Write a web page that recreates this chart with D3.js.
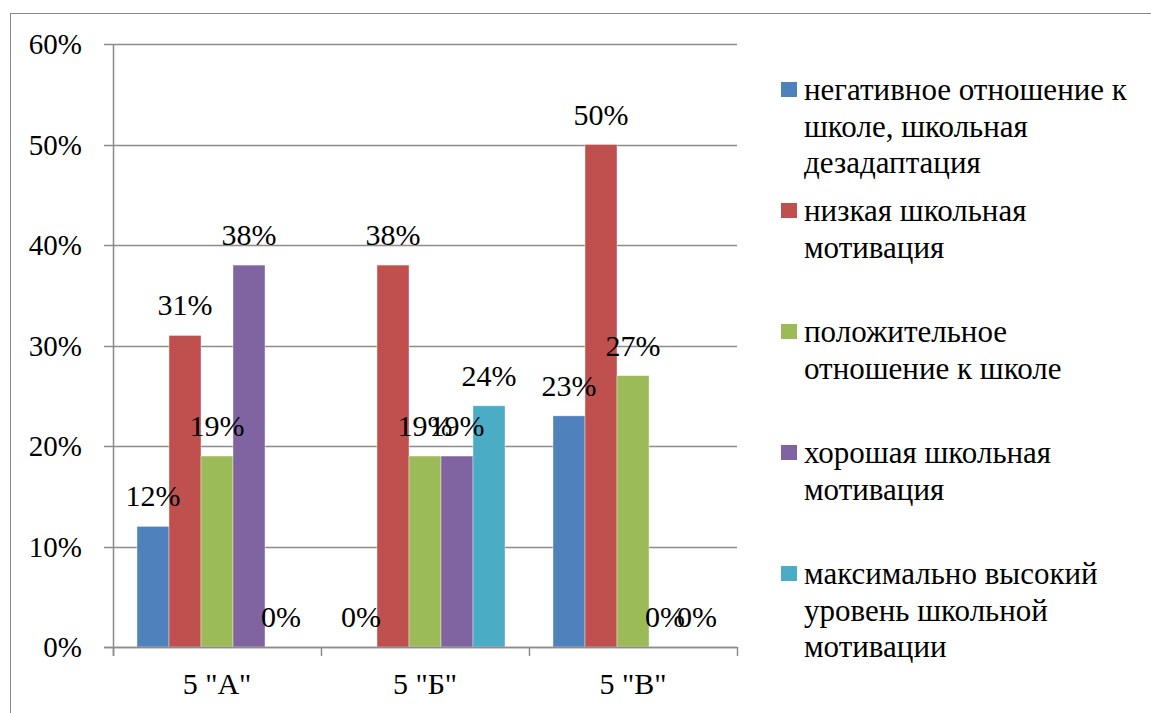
<!DOCTYPE html>
<html>
<head>
<meta charset="utf-8">
<script src="https://cdn.jsdelivr.net/npm/d3@7"></script>
<style>
  body { margin: 0; background: #fff; }
</style>
</head>
<body>
<div id="app"></div>
<script>
var classes = ['5 "А"', '5 "Б"', '5 "В"'];
var seriesNames = [
    ['негативное отношение к', 'школе, школьная', 'дезадаптация'],
    ['низкая школьная', 'мотивация'],
    ['положительное', 'отношение к школе'],
    ['хорошая школьная', 'мотивация'],
    ['максимально высокий', 'уровень школьной', 'мотивации']
];
var seriesColors = ['#4f81bd', '#c0504d', '#9bbb59', '#8064a2', '#4bacc6'];
var negative = [0.12, 0, 0.23];
var low = [0.31, 0.38, 0.50];
var positive = [0.19, 0.19, 0.27];
var good = [0.38, 0.19, 0];
var highest = [0, 0.24, 0];
var yTicks = [0, 0.1, 0.2, 0.3, 0.4, 0.5, 0.6];

var series = [negative, low, positive, good, highest];

var width = 1151, height = 713;
var plot = { left: 113, right: 737, top: 44, bottom: 647 };
var fontFamily = "'Liberation Serif', 'Times New Roman', Tinos, 'DejaVu Serif', serif";

var svg = d3.select('#app')
    .append('svg')
    .attr('width', width)
    .attr('height', height)
    .attr('font-family', fontFamily)
    .style('font-family', fontFamily);

// outer chart frame (runs off the right and bottom edges)
svg.append('rect')
    .attr('x', 10.5)
    .attr('y', 13.5)
    .attr('width', width)
    .attr('height', height)
    .attr('fill', 'none')
    .attr('stroke', '#888');

var x0 = d3.scaleBand()
    .domain(classes)
    .range([plot.left, plot.right])
    .paddingInner(48 / 208)
    .paddingOuter(24 / 208);

var x1 = d3.scaleBand()
    .domain(d3.range(series.length))
    .range([0, x0.bandwidth()]);

var y = d3.scaleLinear()
    .domain([0, 0.6])
    .range([plot.bottom, plot.top]);

// gridlines
svg.append('g')
    .selectAll('line')
    .data(yTicks)
    .enter().append('line')
    .attr('x1', plot.left - 9)
    .attr('x2', plot.right)
    .attr('y1', function(d) { return Math.round(y(d)) + 0.5; })
    .attr('y2', function(d) { return Math.round(y(d)) + 0.5; })
    .attr('stroke', '#8c8c8c')
    .attr('stroke-width', 1.5);

// y axis labels
svg.append('g')
    .selectAll('text')
    .data(yTicks)
    .enter().append('text')
    .attr('x', 82)
    .attr('y', function(d) { return y(d) + 10; })
    .attr('text-anchor', 'end')
    .attr('font-size', 29)
    .text(d3.format('.0%'));

// bars
var groups = svg.append('g')
    .selectAll('g')
    .data(classes)
    .enter().append('g')
    .attr('transform', function(d) { return 'translate(' + x0(d) + ',0)'; });

groups.selectAll('rect')
    .data(function(d, i) { return series.map(function(s, k) { return { k: k, v: s[i] }; }); })
    .enter().append('rect')
    .attr('x', function(d) { return x1(d.k); })
    .attr('y', function(d) { return y(d.v); })
    .attr('width', x1.bandwidth())
    .attr('height', function(d) { return y(0) - y(d.v); })
    .attr('fill', function(d) { return seriesColors[d.k]; })
    .attr('stroke', '#ffffff')
    .attr('stroke-opacity', 0.5)
    .attr('stroke-width', 0.75);

groups.selectAll('text')
    .data(function(d, i) { return series.map(function(s, k) { return { k: k, v: s[i] }; }); })
    .enter().append('text')
    .attr('x', function(d) { return x1(d.k) + x1.bandwidth() / 2; })
    .attr('y', function(d) { return y(d.v) - 20; })
    .attr('text-anchor', 'middle')
    .attr('font-size', 30)
    .text(function(d) { return d3.format('.0%')(d.v); });

// axes lines
svg.append('line')
    .attr('x1', plot.left + 0.5).attr('x2', plot.left + 0.5)
    .attr('y1', plot.top).attr('y2', plot.bottom + 9)
    .attr('stroke', '#8c8c8c').attr('stroke-width', 1.5);

svg.append('line')
    .attr('x1', plot.left - 9).attr('x2', plot.right)
    .attr('y1', plot.bottom + 0.5).attr('y2', plot.bottom + 0.5)
    .attr('stroke', '#8c8c8c').attr('stroke-width', 1.5);

var xTickPos = classes.map(function(d) { return x0(d) - x0.step() * x0.paddingInner() / 2; });
xTickPos.push(plot.right);

svg.append('g')
    .selectAll('line')
    .data(xTickPos)
    .enter().append('line')
    .attr('x1', function(d) { return Math.round(d) + 0.5; })
    .attr('x2', function(d) { return Math.round(d) + 0.5; })
    .attr('y1', plot.bottom)
    .attr('y2', plot.bottom + 9)
    .attr('stroke', '#8c8c8c')
    .attr('stroke-width', 1.5);

svg.append('g')
    .selectAll('text')
    .data(classes)
    .enter().append('text')
    .attr('x', function(d) { return x0(d) + x0.bandwidth() / 2; })
    .attr('y', 694)
    .attr('text-anchor', 'middle')
    .attr('font-size', 30)
    .text(function(d) { return d; });

// legend
var legend = svg.append('g')
    .selectAll('g')
    .data(seriesNames)
    .enter().append('g')
    .attr('transform', function(d, i) { return 'translate(781,' + (82 + i * 121) + ')'; });

legend.append('rect')
    .attr('width', 16)
    .attr('height', 15)
    .attr('fill', function(d, i) { return seriesColors[i]; });

legend.append('text')
    .attr('font-size', 31)
    .selectAll('tspan')
    .data(function(d) { return d; })
    .enter().append('tspan')
    .attr('x', 23)
    .attr('y', function(d, j) { return 18 + j * 36.5; })
    .text(function(d) { return d; });
</script>
</body>
</html>
